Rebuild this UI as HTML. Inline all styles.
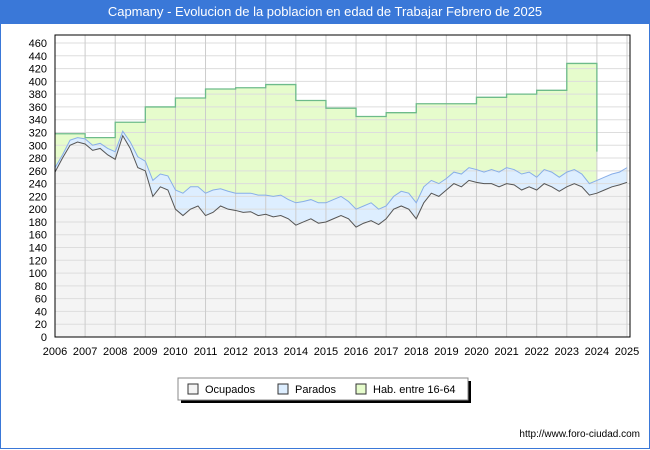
<!DOCTYPE html>
<html><head><meta charset="utf-8"><style>
body{margin:0;width:650px;height:450px;overflow:hidden;background:#fff;font-family:"Liberation Sans","DejaVu Sans",sans-serif}
#wrap{position:relative;width:648px;height:448px;border:1px solid #3a78d8;border-top:none}
#title{height:24px;background:#3a78d8;color:#fff;font-size:13px;text-align:center;line-height:24px}
</style></head><body>
<div id="wrap">
<div id="title">Capmany - Evolucion de la poblacion en edad de Trabajar Febrero de 2025</div>
<svg id="c" width="650" height="426" style="position:absolute;left:-1px;top:24px"></svg>
</div>
<script>
const years=[2006,2007,2008,2009,2010,2011,2012,2013,2014,2015,2016,2017,2018,2019,2020,2021,2022,2023,2024,2025];
const yTicks=[0,20,40,60,80,100,120,140,160,180,200,220,240,260,280,300,320,340,360,380,400,420,440,460];
const habYears=[2006,2007,2008,2009,2010,2011,2012,2013,2014,2015,2016,2017,2018,2019,2020,2021,2022,2023];
const habValues=[318,312,336,360,374,388,390,395,370,358,345,351,365,365,375,380,386,428];
const habEnd=290;
const ocupados=[258,280,300,305,302,292,295,285,278,315,295,265,260,220,235,230,200,190,200,205,190,195,205,200,198,195,196,190,192,188,190,185,175,180,185,178,180,185,190,185,172,178,182,176,185,200,205,200,185,210,225,220,230,240,235,245,242,240,240,235,240,238,230,235,230,240,235,228,235,240,235,222,225,230,235,238,242];
const totales=[265,285,308,312,310,300,303,295,290,322,305,282,275,245,255,252,230,225,235,235,225,230,232,228,225,225,225,222,222,220,222,215,210,212,215,210,210,215,220,212,200,205,210,200,205,220,228,225,210,235,245,240,248,258,255,265,262,258,262,258,265,262,255,258,250,262,258,250,258,262,255,240,245,250,255,258,265];
const svg=document.getElementById('c');const NS='http://www.w3.org/2000/svg';
const X0=55,X1=627,Y0=313,Y1=19;
const xs=y=>X0+(y-2006)*(X1-X0)/19;
const ys=v=>Y0-v*(Y0-Y1)/460;
function mk(t,a,p){const e=document.createElementNS(NS,t);for(const k in a)e.setAttribute(k,a[k]);(p||svg).appendChild(e);return e;}
let e;
e=mk('rect',{x:X0,y:11,width:575,height:302,fill:'#fff'});


let hp=[];habYears.forEach((y,i)=>{hp.push([xs(y),ys(habValues[i])]);hp.push([xs(y+1),ys(habValues[i])]);});
hp.push([xs(2024),ys(habEnd)]);
const tx=i=>xs(2006+i*0.25);
let hd='M'+hp.map(p=>p.join(',')).join(' L');
let backTot=[];for(let i=totales.length-1;i>=0;i--)backTot.push(tx(i)+','+ys(totales[i]));
e=mk('path',{d:hd+' L'+xs(2024)+','+ys(totales[72])+' L'+backTot.slice(totales.length-73).join(' L')+'Z',fill:'#e6fccc'});


let tl=totales.map((v,i)=>tx(i)+','+ys(v));
let ol=ocupados.map((v,i)=>tx(i)+','+ys(v));
e=mk('path',{d:'M'+tl.join(' L')+' L'+ol.slice().reverse().join(' L')+'Z',fill:'#ddeeff'});


e=mk('path',{d:'M'+ol.join(' L')+' L'+tx(ocupados.length-1)+','+Y0+' L'+X0+','+Y0+'Z',fill:'#f4f4f4'});


yTicks.forEach(v=>{
 e=mk('line',{x1:X0,x2:630,y1:ys(v),y2:ys(v),stroke:'#ddd'});
 
 
 e=mk('text',{x:X0-8,y:ys(v)+4,'text-anchor':'end','font-size':'11',fill:'#000'});e.textContent=v;
 
 
});
years.forEach(y=>{
 e=mk('line',{x1:xs(y),x2:xs(y),y1:11,y2:Y0,stroke:'#ccc'});
 
 
 e=mk('text',{x:xs(y),y:Y0+18,'text-anchor':'middle','font-size':'11',fill:'#000'});e.textContent=y;
 
 
});
e=mk('path',{d:hd,fill:'none',stroke:'#6dbb8a','stroke-width':1.3});


e=mk('path',{d:'M'+tl.join(' L'),fill:'none',stroke:'#88aee8'});


e=mk('path',{d:'M'+ol.join(' L'),fill:'none',stroke:'#555'});


e=mk('rect',{x:X0,y:11,width:575,height:302,fill:'none',stroke:'#000'});


const lg=mk('g',{});


mk('rect',{x:181,y:357,width:290,height:22,fill:'#000'},lg);
mk('rect',{x:178,y:354,width:290,height:22,fill:'#fff',stroke:'#888'},lg);
[['Ocupados','#f4f4f4',188],['Parados','#ddeeff',278],['Hab. entre 16-64','#e6fccc',356]].forEach(l=>{
 const g=mk('g',{},lg);
 
 
 mk('rect',{x:l[2],y:360,width:10,height:10,fill:l[1],stroke:'#333'},g);
 const t=mk('text',{x:l[2]+17,y:369,'font-size':'11'},g);t.textContent=l[0];
});
e=mk('text',{x:640,y:413,'text-anchor':'end','font-size':'10',fill:'#000'});e.textContent='http://www.foro-ciudad.com';


</script>
</body></html>
